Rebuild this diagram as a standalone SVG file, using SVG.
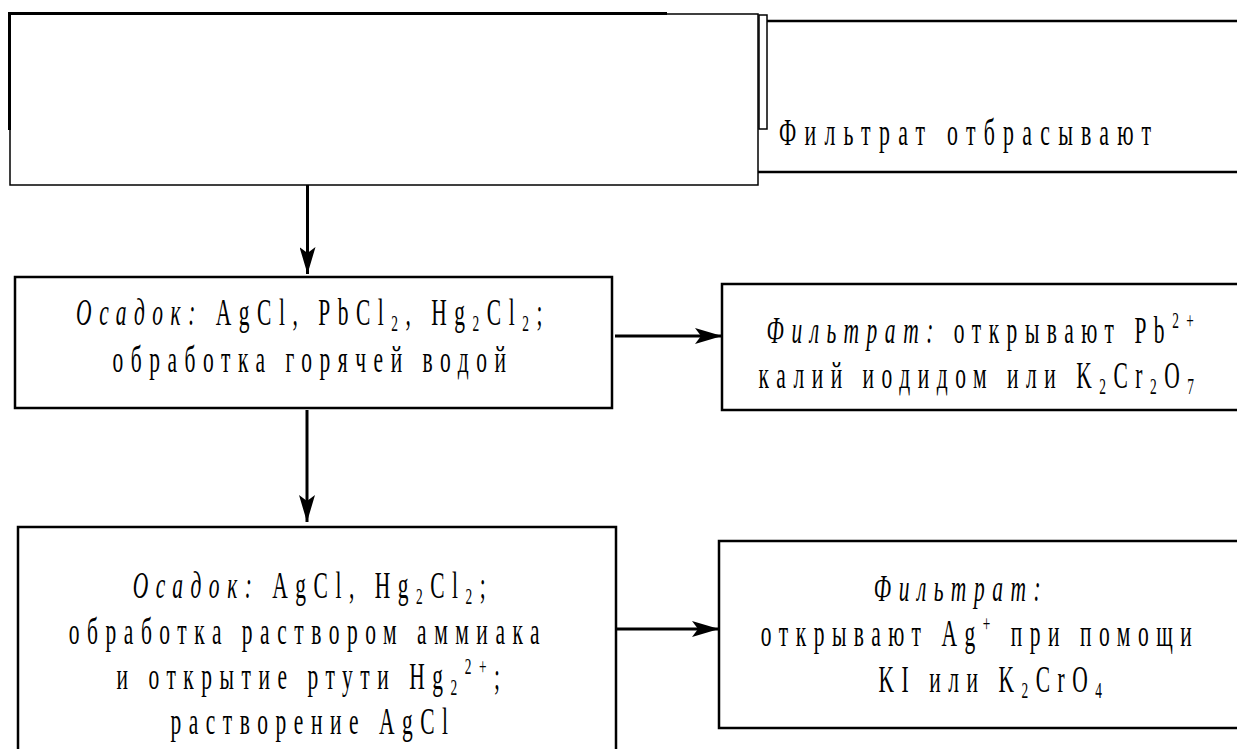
<svg xmlns="http://www.w3.org/2000/svg" width="1237" height="749" viewBox="0 0 1237 749">
<style>
.t{font-family:"Liberation Serif","Times New Roman",serif;font-size:37px;fill:#000;letter-spacing:13px}
.i{font-style:italic}
.s{font-size:23px}
.box{fill:#fff;stroke:#000;stroke-width:2.5}
.thin{fill:none;stroke:#000;stroke-width:1.5}
.ln{fill:none;stroke:#000;stroke-width:3}
</style>
<defs>
<marker id="ah" markerUnits="userSpaceOnUse" markerWidth="28" markerHeight="16" refX="27" refY="8" orient="auto">
<path d="M0,0 L27,8 L0,16 L6,8 Z" fill="#000"/>
</marker>
</defs>
<rect width="1237" height="749" fill="#fff"/>

<g id="node-start">
<rect class="thin" x="10" y="14" width="748" height="171" fill="#fff"/>
<line class="ln" x1="8" y1="13.5" x2="667" y2="13.5"/>
<line class="ln" x1="9.5" y1="12" x2="9.5" y2="130"/>
<rect class="thin" x="759" y="15" width="8" height="114"/>
</g>

<g id="node-filtrate-discard">
<line x1="767" y1="21" x2="1237" y2="21" stroke="#000" stroke-width="2.5"/>
<line x1="758" y1="172" x2="1237" y2="172" stroke="#000" stroke-width="2.5"/>
<text class="t" style="letter-spacing:14px" transform="translate(779,145) scale(0.59,1)">Фильтрат отбрасывают</text>
</g>

<g id="node-precip1">
<rect class="box" x="15" y="277" width="597" height="131"/>
<text class="t" text-anchor="middle" transform="translate(313,325) scale(0.58,1)"><tspan class="i">Осадок:</tspan> AgCl, PbCl<tspan class="s" dy="6">2</tspan><tspan dy="-6">, Hg</tspan><tspan class="s" dy="6">2</tspan><tspan dy="-6">Cl</tspan><tspan class="s" dy="6">2</tspan><tspan dy="-6">;</tspan></text>
<text class="t" text-anchor="middle" transform="translate(313,372) scale(0.58,1)">обработка горячей водой</text>
</g>

<g id="node-filtrate-pb">
<rect class="box" x="722" y="284" width="530" height="126"/>
<text class="t" text-anchor="middle" transform="translate(984,343) scale(0.58,1)"><tspan class="i">Фильтрат:</tspan> открывают Pb<tspan class="s" dy="-15">2+</tspan></text>
<text class="t" text-anchor="middle" transform="translate(980,388) scale(0.58,1)">калий иодидом или K<tspan class="s" dy="6">2</tspan><tspan dy="-6">Cr</tspan><tspan class="s" dy="6">2</tspan><tspan dy="-6">O</tspan><tspan class="s" dy="6">7</tspan></text>
</g>

<g id="node-precip2">
<rect class="box" x="18" y="527" width="598" height="240"/>
<text class="t" text-anchor="middle" transform="translate(313,598) scale(0.58,1)"><tspan class="i">Осадок:</tspan> AgCl, Hg<tspan class="s" dy="6">2</tspan><tspan dy="-6">Cl</tspan><tspan class="s" dy="6">2</tspan><tspan dy="-6">;</tspan></text>
<text class="t" text-anchor="middle" transform="translate(308,644) scale(0.58,1)">обработка раствором аммиака</text>
<text class="t" text-anchor="middle" transform="translate(312,689) scale(0.58,1)">и открытие ртути Hg<tspan class="s" dy="6">2</tspan><tspan class="s" dy="-21">2+</tspan><tspan dy="15">;</tspan></text>
<text class="t" text-anchor="middle" transform="translate(313,734) scale(0.58,1)">растворение AgCl</text>
</g>

<g id="node-filtrate-ag">
<rect class="box" x="719" y="541" width="530" height="187"/>
<text class="t" text-anchor="middle" transform="translate(961,601) scale(0.58,1)"><tspan class="i">Фильтрат:</tspan></text>
<text class="t" text-anchor="middle" transform="translate(980,646) scale(0.58,1)">открывают Ag<tspan class="s" dy="-15">+</tspan><tspan dy="15"> при помощи</tspan></text>
<text class="t" text-anchor="middle" transform="translate(994,692) scale(0.58,1)">KI или K<tspan class="s" dy="6">2</tspan><tspan dy="-6">CrO</tspan><tspan class="s" dy="6">4</tspan></text>
</g>

<g id="connectors">
<line class="ln" x1="307.5" y1="185" x2="307.5" y2="274" marker-end="url(#ah)"/>
<line class="ln" x1="615" y1="336" x2="722" y2="336" marker-end="url(#ah)"/>
<line class="ln" x1="307" y1="410" x2="307" y2="522" marker-end="url(#ah)"/>
<line class="ln" x1="616" y1="629" x2="719" y2="629" marker-end="url(#ah)"/>
</g>
</svg>
